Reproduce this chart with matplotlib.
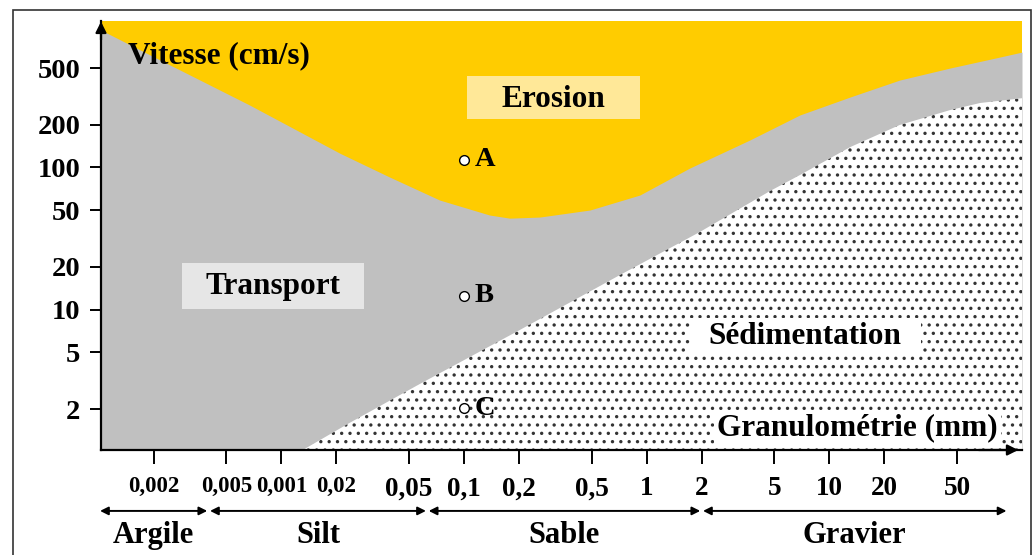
import numpy as np
import matplotlib
matplotlib.use('Agg')
import matplotlib.pyplot as plt
from matplotlib.patches import Rectangle

plt.rcParams['font.family'] = ['Liberation Serif', 'DejaVu Serif']
plt.rcParams['font.weight'] = 'bold'
plt.rcParams['hatch.color'] = '#333333'
plt.rcParams['hatch.linewidth'] = 1.2

# erosion threshold (top of transport zone), grain size mm / speed cm/s
ero_x = [0.00103, 0.0019, 0.0067, 0.0209, 0.0392, 0.0736, 0.138, 0.178, 0.26,
         0.489, 0.918, 1.72, 3.67, 6.9, 13.0, 24.3, 45.7, 85.9, 113.5]
ero_y = [925, 621, 275, 126, 85.6, 59.0, 46.3, 44.0, 44.8,
         50.2, 64.0, 99, 156, 234, 313, 412, 500, 598, 648]

# sedimentation threshold
sed_x = [0.0126, 0.0237, 0.0573, 0.202, 0.713, 1.95, 4.73, 6.9, 13.0, 24.3, 45.7, 66.8, 113.5]
sed_y = [1.0, 1.6, 3.0, 7.19, 17.5, 35.1, 68.2, 88.4, 139, 199, 253, 284, 307]

# points A, B, C
pt_names = ['A', 'B', 'C']
pt_x = [0.1, 0.1, 0.1]
pt_y = [113, 12.5, 2.03]

y_ticks = [2, 5, 10, 20, 50, 100, 200, 500]
x_ticks = [0.002, 0.005, 0.01, 0.02, 0.05, 0.1, 0.2, 0.5, 1, 2, 5, 10, 20, 50]
x_labels = ['0,002', '0,005', '0,001', '0,02', '0,05', '0,1', '0,2', '0,5', '1', '2',
            '5', '10', '20', '50']

classes = ['Argile', 'Silt', 'Sable', 'Gravier']
class_limits = [0.001, 0.004, 0.063, 2, 95]

YELLOW = '#FFCC00'
GRAY = '#C0C0C0'

fig = plt.figure(figsize=(10.35, 5.55), dpi=100)
ax = fig.add_axes([101/1035, 105/555, 921/1035, 429/555])
ax.set_xscale('log')
ax.set_yscale('log')
ax.set_xlim(0.00103, 113.5)
ax.set_ylim(1.03, 1072)
ax.set_facecolor(YELLOW)

ax.fill_between(ero_x, ero_y, 0.5, color=GRAY, lw=0)
ax.fill_between(sed_x, sed_y, 0.5, facecolor='white', edgecolor='#333333', hatch='..', lw=0)

ax.plot(pt_x, pt_y, 'o', ms=7, mfc='white', mec='black', mew=1.0, zorder=5)
for n, xx, yy in zip(pt_names, pt_x, pt_y):
    ax.text(xx * 1.14, yy, n, fontsize=20.5, ha='left', va='center', zorder=5)

# spines + arrows
for s in ['top', 'right']:
    ax.spines[s].set_visible(False)
for s in ['left', 'bottom']:
    ax.spines[s].set_linewidth(1.6)
ax.annotate('', xy=(0, 1.005), xytext=(0, 0.95), xycoords='axes fraction',
            arrowprops=dict(arrowstyle='-|>', color='black', lw=1.6, mutation_scale=16))
ax.annotate('', xy=(0.999, 0), xytext=(0.95, 0), xycoords='axes fraction',
            arrowprops=dict(arrowstyle='-|>', color='black', lw=1.6, mutation_scale=16))

ax.set_yticks(y_ticks)
ax.set_yticklabels([str(v) for v in y_ticks])
ax.yaxis.set_minor_locator(plt.NullLocator())
ax.tick_params(axis='y', length=8, width=1.4, pad=7, labelsize=20.5)

ax.set_xticks(x_ticks)
ax.set_xticklabels(x_labels)
ax.xaxis.set_minor_locator(plt.NullLocator())
ax.tick_params(axis='x', length=10, width=1.4, pad=9, labelsize=19.5)
for lab in ax.get_xticklabels()[:4]:
    lab.set_fontsize(16.5)

# zone labels
ax.text(0.029, 0.920, 'Vitesse (cm/s)', transform=ax.transAxes, fontsize=22.5,
        ha='left', va='center')
ax.add_patch(Rectangle((0.397, 0.772), 0.188, 0.100, transform=ax.transAxes,
                       facecolor='#FFE898', lw=0, zorder=3))
ax.text(0.491, 0.818, 'Erosion', transform=ax.transAxes, fontsize=22.5,
        ha='center', va='center', zorder=4)
ax.add_patch(Rectangle((0.088, 0.329), 0.198, 0.107, transform=ax.transAxes,
                       facecolor='#E6E6E6', lw=0, zorder=3))
ax.text(0.187, 0.380, 'Transport', transform=ax.transAxes, fontsize=22.5,
        ha='center', va='center', zorder=4)
ax.add_patch(Rectangle((0.640, 0.221), 0.250, 0.086, transform=ax.transAxes,
                       facecolor='white', lw=0, zorder=3))
ax.text(0.764, 0.264, 'Sédimentation', transform=ax.transAxes, fontsize=22.5,
        ha='center', va='center', zorder=4)
ax.text(0.821, 0.052, 'Granulométrie (mm)', transform=ax.transAxes, fontsize=22.5,
        ha='center', va='center', zorder=4,
        bbox=dict(boxstyle='square,pad=0.1', facecolor='white', lw=0))

# grain classes under the axis
tr = ax.get_xaxis_transform()
for i, name in enumerate(classes):
    a, b = class_limits[i], class_limits[i + 1]
    ax.annotate('', xy=(b, -0.142), xytext=(a, -0.142), xycoords=tr, textcoords=tr,
                arrowprops=dict(arrowstyle='<|-|>', color='black', lw=1.4,
                                mutation_scale=12, shrinkA=1, shrinkB=1),
                annotation_clip=False)
    ax.text(np.sqrt(a * b), -0.200, name, transform=tr, fontsize=22,
            ha='center', va='center', clip_on=False)

fig.add_artist(Rectangle((13/1035, -0.1), 1018/1035, 545/555 + 0.1,
                         transform=fig.transFigure, fill=False, ec='#333333', lw=1.2))

fig.savefig('out.png', dpi=100)
